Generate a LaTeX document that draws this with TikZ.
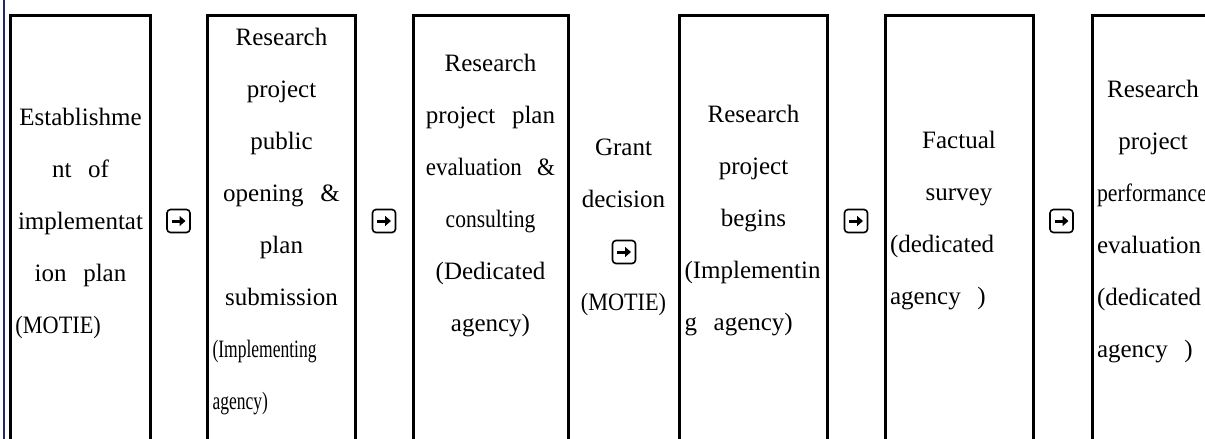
\documentclass[tikz,border=0pt]{standalone}
\usepackage{fontspec}
\setmainfont{Liberation Serif}
\usepackage{graphicx}
\usetikzlibrary{arrows.meta}
\definecolor{rulenavy}{HTML}{1F2B66}
\newcommand{\atleft}[1]{\makebox[\hsize][l]{#1}}
\newcommand{\narrow}[2]{\scalebox{#1}[1]{#2}}

\begin{document}
\begin{tikzpicture}[x=1pt,y=-1pt]
  \tikzset{frame/.style={draw, line width=3pt, outer sep=0, inner sep=0,
      anchor=north west, minimum height=480pt},
    txt/.style={align=center, inner sep=0, font=\fontsize{25}{52}\selectfont},
    nextbox/.style={draw, rounded corners=3.5pt, line width=1.6pt,
      minimum size=23pt, inner sep=0},
    pointer/.style={line width=3pt, -{Triangle[length=6pt,width=10pt]}}}
  \useasboundingbox (0,0) rectangle (1205,439);
  \clip (0,0) rectangle (1205,439);
  \draw[rulenavy, line width=1.2pt] (4,0) -- (4,439);
  \node[frame, minimum width=140pt] (f1) at (10.5,15) {};
  \node[frame, minimum width=148pt] (f2) at (207.5,15) {};
  \node[frame, minimum width=155pt] (f3) at (413,15) {};
  \node[frame, minimum width=148pt] (f4) at (679.5,15) {};
  \node[frame, minimum width=148pt] (f5) at (885,15) {};
  \node[frame, minimum width=122pt] (f6) at (1092,15) {};
  \node[txt, text width=130pt] (s1) at (80.5,223) {Establishme\\
    nt~~of\\ implementat\\ ion~~plan\\ \atleft{\narrow{0.89}{(MOTIE)}}};
  \node[txt, text width=138pt] (s2) at (281.5,222) {Research\\ project\\
    public\\ opening~~\&\\ plan\\ submission\\
    \atleft{\narrow{0.7}{(Implementing}}\\ \atleft{\narrow{0.7}{agency)}}};
  \node[txt, text width=145pt] (s3) at (490.5,196) {Research\\
    project~~plan\\ \narrow{0.92}{evaluation~~\&}\\ \narrow{0.86}{consulting}\\
    (Dedicated\\ agency)};
  \node[txt] (g1) at (623.5,173) {Grant\\ decision};
  \node[txt] (g2) at (623.5,304) {\narrow{0.89}{(MOTIE)}};
  \node[txt, text width=138pt] (s4) at (753.5,221) {Research\\ project\\
    begins\\ \atleft{(Implementin}\\ \atleft{g~~agency)}};
  \node[txt, text width=138pt] (s5) at (959,221) {Factual\\ survey\\
    \atleft{(dedicated}\\ \atleft{agency~~)}};
  \node[txt, text width=112pt] (s6) at (1153,222) {Research\\ project\\
    \atleft{\narrow{0.87}{performance}}\\ \atleft{evaluation}\\
    \atleft{(dedicated}\\ \atleft{agency~~)}};
  \node[nextbox] (n1) at (178.5,221) {};
  \node[nextbox] (n2) at (384,221) {};
  \node[nextbox] (ng) at (624,252) {};
  \node[nextbox] (n3) at (856,221) {};
  \node[nextbox] (n4) at (1061.5,221) {};
  \draw[pointer] ([xshift=-7pt]n1.center) -- ([xshift=7pt]n1.center);
  \draw[pointer] ([xshift=-7pt]n2.center) -- ([xshift=7pt]n2.center);
  \draw[pointer] ([xshift=-7pt]ng.center) -- ([xshift=7pt]ng.center);
  \draw[pointer] ([xshift=-7pt]n3.center) -- ([xshift=7pt]n3.center);
  \draw[pointer] ([xshift=-7pt]n4.center) -- ([xshift=7pt]n4.center);
\end{tikzpicture}
\end{document}
